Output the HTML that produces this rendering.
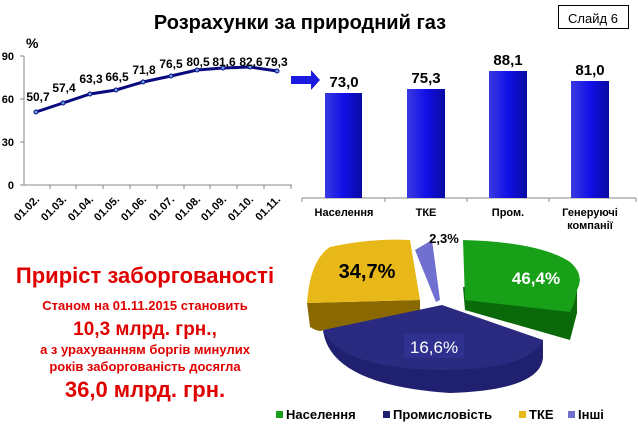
<!DOCTYPE html>
<html><head><meta charset="utf-8"><style>
body{margin:0;width:638px;height:442px;background:#fff;overflow:hidden;font-family:"Liberation Sans",sans-serif}
</style></head><body>
<svg width="638" height="442" xmlns="http://www.w3.org/2000/svg" font-family="Liberation Sans, sans-serif">
<defs>
<linearGradient id="bg" x1="0" x2="1"><stop offset="0" stop-color="#3a3ae0"/><stop offset="0.5" stop-color="#1010e8"/><stop offset="1" stop-color="#0a0aa0"/></linearGradient>
</defs>
<text x="300" y="29" font-size="20" font-weight="bold" text-anchor="middle">Розрахунки за природний газ</text>
<rect x="558.5" y="5.5" width="70" height="23" fill="#fff" stroke="#000"/>
<text x="593" y="23" font-size="13" text-anchor="middle">Слайд 6</text>
<!-- line chart -->
<text x="26" y="48" font-size="14" font-weight="bold">%</text>
<g font-size="11" font-weight="bold" text-anchor="end">
<text x="14" y="60">90</text><text x="14" y="103">60</text><text x="14" y="146">30</text><text x="14" y="189">0</text>
</g>
<path d="M24 56V185H292" stroke="#888" fill="none"/>
<g stroke="#888"><path d="M20 56h4M20 99h4M20 142h4M20 185h4"/>
<path d="M50 185v4M76 185v4M103 185v4M130 185v4M157 185v4M184 185v4M210 185v4M237 185v4M264 185v4M291 185v4"/></g>
<polyline fill="none" stroke="#0a0a80" stroke-width="3" points="36,112 63,103 90,94 116,90 143,82 171,76 197,70 223,68 250,67 277,71"/>
<g fill="#6aa0e0" stroke="#0a0a80"><circle cx="36" cy="112" r="2"/><circle cx="63" cy="103" r="2"/><circle cx="90" cy="94" r="2"/><circle cx="116" cy="90" r="2"/><circle cx="143" cy="82" r="2"/><circle cx="171" cy="76" r="2"/><circle cx="197" cy="70" r="2"/><circle cx="223" cy="68" r="2"/><circle cx="250" cy="67" r="2"/><circle cx="277" cy="71" r="2"/></g>
<g font-size="12" font-weight="bold" text-anchor="middle">
<text x="38" y="101">50,7</text><text x="64" y="92">57,4</text><text x="91" y="83">63,3</text><text x="117" y="81">66,5</text><text x="144" y="74">71,8</text><text x="171" y="68">76,5</text><text x="198" y="66">80,5</text><text x="224" y="66">81,6</text><text x="251" y="66">82,6</text><text x="276" y="66">79,3</text>
</g>
<g font-size="11" font-weight="bold" text-anchor="end">
<text transform="translate(40,200) rotate(-45)">01.02.</text>
<text transform="translate(67,200) rotate(-45)">01.03.</text>
<text transform="translate(94,200) rotate(-45)">01.04.</text>
<text transform="translate(120,200) rotate(-45)">01.05.</text>
<text transform="translate(147,200) rotate(-45)">01.06.</text>
<text transform="translate(175,200) rotate(-45)">01.07.</text>
<text transform="translate(201,200) rotate(-45)">01.08.</text>
<text transform="translate(227,200) rotate(-45)">01.09.</text>
<text transform="translate(254,200) rotate(-45)">01.10.</text>
<text transform="translate(281,200) rotate(-45)">01.11.</text>
</g>
<!-- arrow -->
<path d="M291 76h20v-6l9 10-9 10v-6h-20z" fill="#1a1ae0"/>
<!-- bars -->
<path d="M302 198H636" stroke="#888"/>
<g stroke="#888"><path d="M302 198v4M385 198v4M467 198v4M549 198v4M636 198v4"/></g>
<rect x="325" y="93" width="37" height="105" fill="url(#bg)"/>
<rect x="407" y="89" width="38" height="109" fill="url(#bg)"/>
<rect x="489" y="71" width="38" height="127" fill="url(#bg)"/>
<rect x="571" y="81" width="38" height="117" fill="url(#bg)"/>
<g font-size="15" font-weight="bold" text-anchor="middle">
<text x="344" y="87">73,0</text><text x="426" y="83">75,3</text><text x="508" y="65">88,1</text><text x="590" y="75">81,0</text>
</g>
<g font-size="11" font-weight="bold" text-anchor="middle">
<text x="344" y="216">Населення</text><text x="426" y="216">ТКЕ</text><text x="508" y="216">Пром.</text><text x="590" y="216">Генеруючі</text><text x="590" y="229">компанії</text>
</g>
<!-- pie -->
<path d="M307 303 L310 327 Q320 333 323 330 L420 313 L420 300 Z" fill="#8a6a00"/>
<path d="M307 303 Q310 260 330 247 Q370 238 410 240 L420 300 Z" fill="#e8b818"/>
<path d="M415 250 L432 240 L440 300 L436 302 Z" fill="#7070d0"/>
<path d="M323 330 Q330 385 450 393 Q540 390 543 358 L543 340 Z" fill="#202070"/>
<path d="M323 330 L442 305 L543 340 Q530 370 440 370 Q340 368 323 330Z" fill="#2a2a80"/>
<path d="M463 287 L465 310 L570 340 L577 313 L577 283 Z" fill="#0a6a0a"/>
<path d="M463 240 Q540 242 570 262 Q585 275 577 290 Q575 303 570 312 L465 300 Z" fill="#18a018"/>
<text x="367" y="278" font-size="20" font-weight="bold" text-anchor="middle">34,7%</text>
<text x="536" y="284" font-size="17" font-weight="bold" fill="#fff" text-anchor="middle">46,4%</text>
<rect x="404" y="334" width="60" height="24" fill="#303090"/>
<text x="434" y="353" font-size="17" fill="#fff" text-anchor="middle">16,6%</text>
<text x="444" y="243" font-size="13" font-weight="bold" text-anchor="middle">2,3%</text>
<!-- legend -->
<g font-size="13" font-weight="bold">
<rect x="276" y="411" width="7" height="7" fill="#18a018"/><text x="286" y="419">Населення</text>
<rect x="383" y="411" width="7" height="7" fill="#202070"/><text x="393" y="419">Промисловість</text>
<rect x="519" y="411" width="7" height="7" fill="#e8b818"/><text x="529" y="419">ТКЕ</text>
<rect x="568" y="411" width="7" height="7" fill="#7070d0"/><text x="578" y="419">Інші</text>
</g>
<!-- left text -->
<g fill="#e00000" font-weight="bold" text-anchor="middle">
<text x="145" y="283" font-size="22">Приріст заборгованості</text>
<text x="145" y="310" font-size="13">Станом на 01.11.2015 становить</text>
<text x="145" y="335" font-size="19">10,3 млрд. грн.,</text>
<text x="145" y="354" font-size="13">а з урахуванням боргів минулих</text>
<text x="145" y="371" font-size="13">років заборгованість досягла</text>
<text x="145" y="397" font-size="22">36,0 млрд. грн.</text>
</g>
</svg>
</body></html>
